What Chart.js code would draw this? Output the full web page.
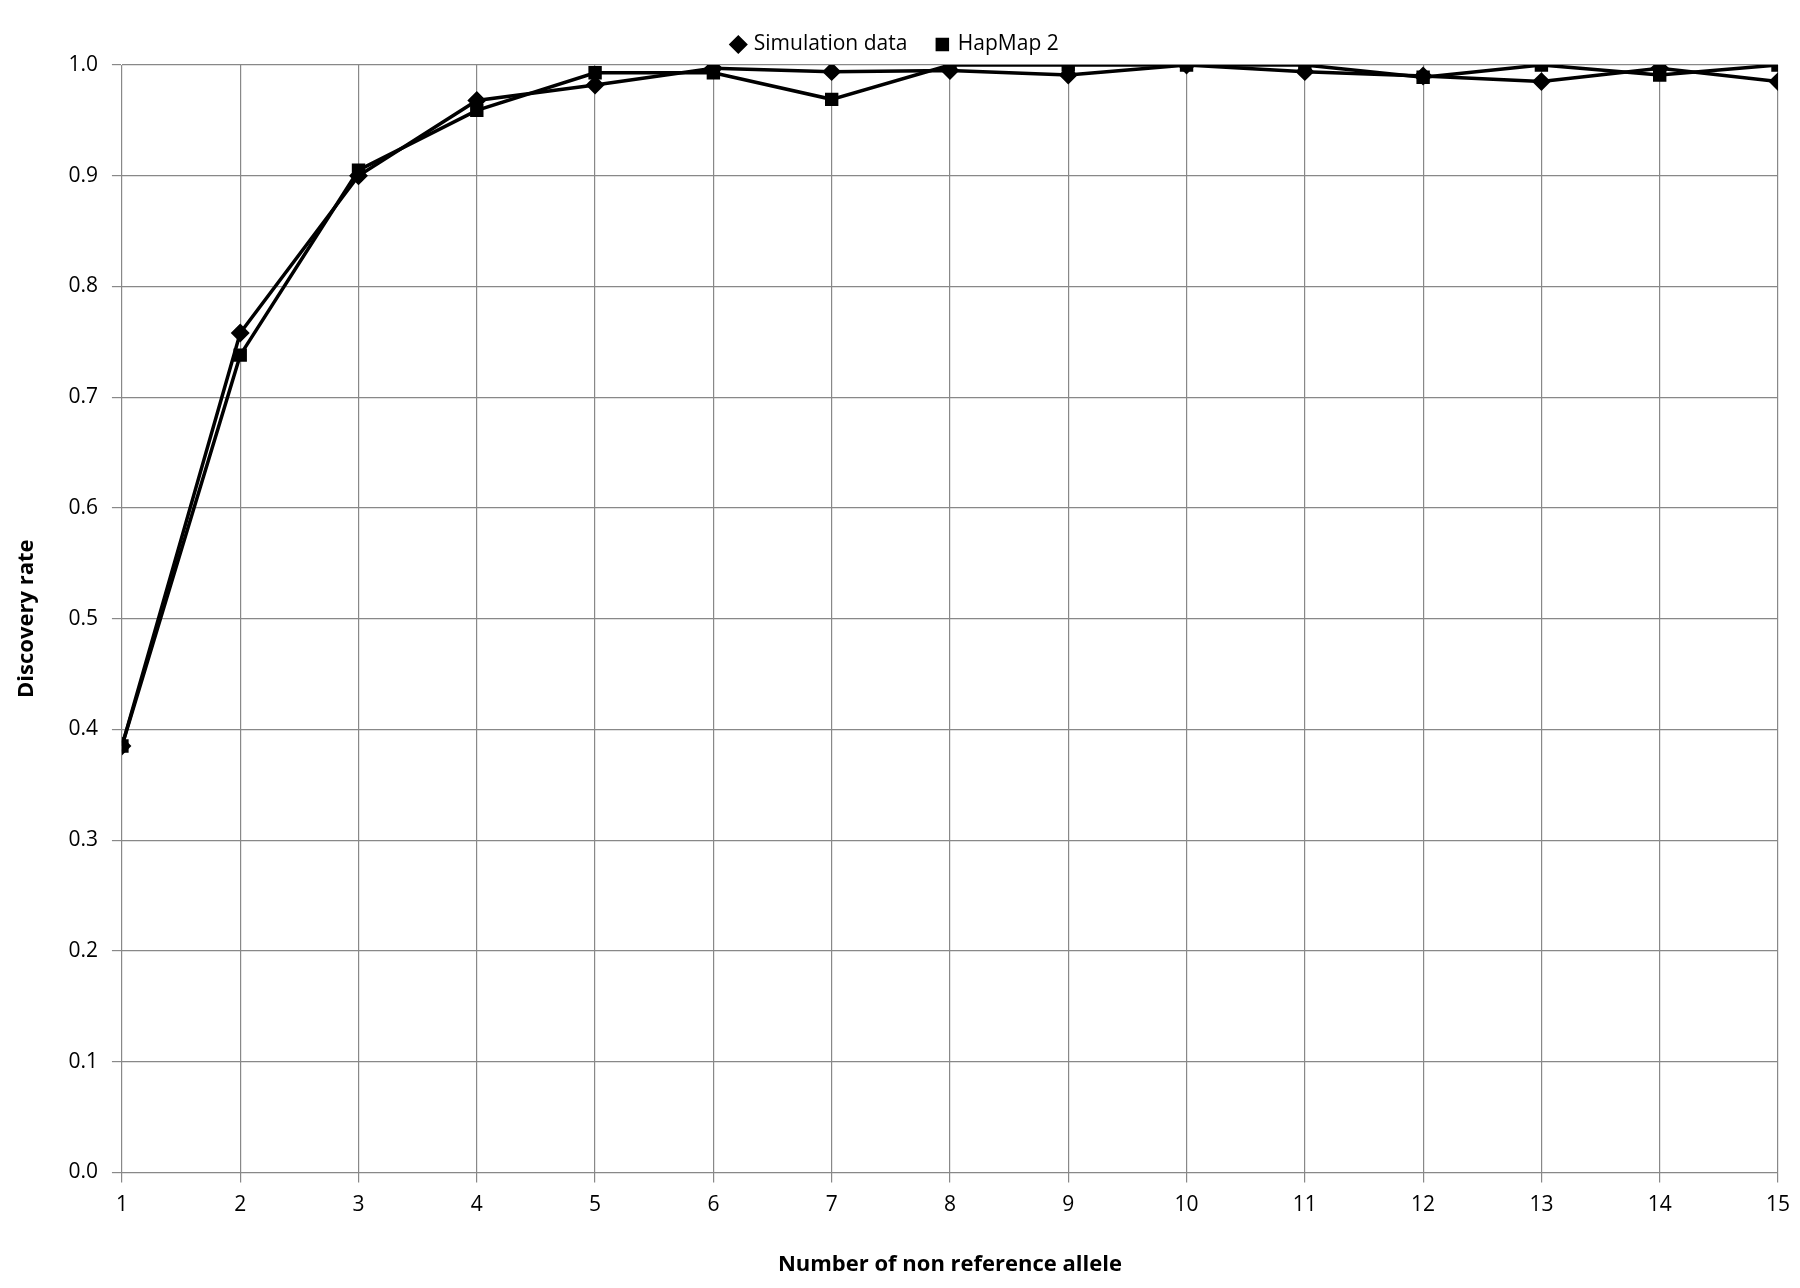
<!DOCTYPE html>
<html>
<head>
<meta charset="utf-8">
<script src="https://cdn.jsdelivr.net/npm/chart.js@4"></script>
<style>
  html, body { margin: 0; padding: 0; background: #fff; }
  #wrap { width: 1800px; height: 1288px; }
</style>
</head>
<body>
<div id="wrap"><canvas id="grafico"></canvas></div>
<script>
const alelos = [1, 2, 3, 4, 5, 6, 7, 8, 9, 10, 11, 12, 13, 14, 15];
const simulacao = [0.385, 0.758, 0.900, 0.968, 0.982, 0.997, 0.994, 0.995, 0.991, 1.0, 0.994, 0.990, 0.985, 0.997, 0.985];
const hapmap = [0.385, 0.738, 0.905, 0.959, 0.993, 0.993, 0.969, 1.0, 1.0, 1.0, 1.0, 0.989, 1.0, 0.991, 1.0];

const fonte = "'Open Sans', 'Liberation Sans', sans-serif";
const pontos = (valores) => alelos.map((x, i) => ({ x: x, y: valores[i] }));

new Chart(document.getElementById('grafico'), {
    type: 'line',
    data: {
        datasets: [{
            label: 'Simulation data',
            data: pontos(simulacao),
            borderColor: '#000',
            backgroundColor: '#000',
            borderWidth: 3.5,
            pointStyle: 'rectRot',
            pointRadius: 7,
            tension: 0
        }, {
            label: 'HapMap 2',
            data: pontos(hapmap),
            borderColor: '#000',
            backgroundColor: '#000',
            borderWidth: 3.5,
            pointStyle: 'rect',
            pointRadius: 7,
            tension: 0
        }]
    },
    options: {
        responsive: true,
        maintainAspectRatio: false,
        animation: false,
        layout: { padding: { left: 10, right: 18, top: 4, bottom: 6 } },
        scales: {
            x: {
                type: 'linear',
                min: 1,
                max: 15,
                ticks: { stepSize: 1, padding: 10, color: '#000', font: { family: fonte, size: 21 } },
                grid: { color: '#888', lineWidth: 1.2, tickLength: 10 },
                border: { color: '#888' },
                title: { display: true, text: 'Number of non reference allele', padding: { top: 24 }, color: '#000', font: { family: fonte, size: 22, weight: 'bold' } }
            },
            y: {
                min: 0,
                max: 1,
                ticks: { stepSize: 0.1, padding: 14, color: '#000', font: { family: fonte, size: 21 }, callback: v => v.toFixed(1) },
                grid: { color: '#888', lineWidth: 1.2, tickLength: 10 },
                border: { color: '#888' },
                title: { display: true, text: 'Discovery rate', padding: { bottom: 14 }, color: '#000', font: { family: fonte, size: 22, weight: 'bold' } }
            }
        },
        plugins: {
            legend: {
                position: 'top',
                labels: {
                    usePointStyle: true,
                    color: '#000',
                    font: { family: fonte, size: 21 },
                    boxWidth: 10,
                    boxHeight: 10,
                    padding: 30
                }
            }
        }
    }
});
</script>
</body>
</html>
